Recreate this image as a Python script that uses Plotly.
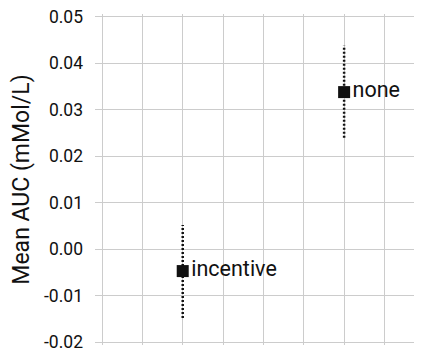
import plotly.graph_objects as go

categories = ["incentive", "none"]
x_index = [2, 6]
mean_auc = [-0.0047, 0.0338]
err_low = [-0.0148, 0.0240]
err_high = [0.0052, 0.0438]
y_ticks = [-0.02, -0.01, 0.00, 0.01, 0.02, 0.03, 0.04, 0.05]
y_tick_labels = ["-0.02", "-0.01", "0.00", "0.01", "0.02", "0.03", "0.04", "0.05"]

fig = go.Figure()

for xi, lo, hi in zip(x_index, err_low, err_high):
    fig.add_trace(go.Scatter(
        x=[xi, xi], y=[lo, hi], mode="lines",
        line=dict(color="#111111", width=2.5, dash="2px,2px"),
        hoverinfo="skip", showlegend=False,
    ))

fig.add_trace(go.Scatter(
    x=x_index, y=mean_auc, mode="markers+text",
    text=categories, textposition="middle right",
    textfont=dict(family="Roboto", size=21.5, color="#111111"),
    marker=dict(symbol="square", size=12, color="#111111"),
    showlegend=False,
))

fig.update_layout(
    width=414, height=340,
    margin=dict(l=87, r=0, t=6, b=3),
    paper_bgcolor="white", plot_bgcolor="white",
    font=dict(family="Roboto", color="#222222"),
    xaxis=dict(
        range=[-0.174, 7.93], dtick=1, tick0=0, automargin=False,
        showticklabels=False, showgrid=True, gridcolor="#cccccc", gridwidth=1,
        zeroline=False, showline=False, ticks="",
    ),
    yaxis=dict(
        range=[-0.0206, 0.0506], automargin=False,
        tickvals=y_ticks, ticktext=y_tick_labels,
        tickfont=dict(size=17.5, color="#111111"),
        ticklabeloverflow="allow",
        showgrid=True, gridcolor="#cccccc", gridwidth=1,
        zeroline=False, showline=False, ticks="",
        ticklabelstandoff=11,
        title=dict(text="Mean AUC (mMol/L)", font=dict(size=23, color="#111111"), standoff=12),
    ),
)

fig.write_html("out.html")
